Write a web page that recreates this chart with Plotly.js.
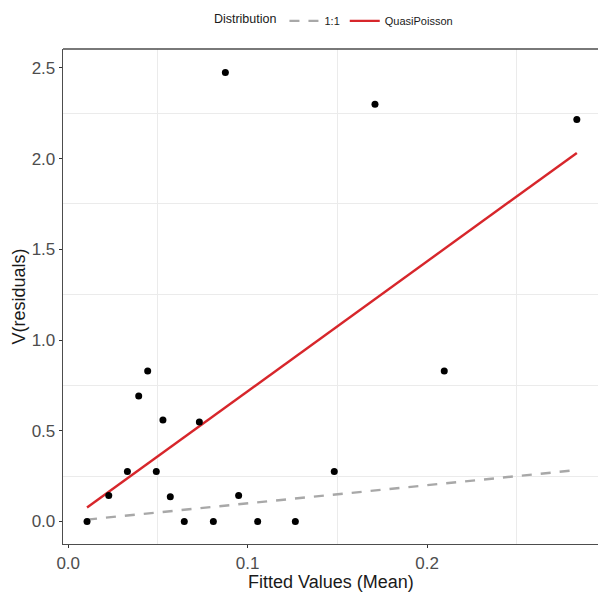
<!DOCTYPE html>
<html>
<head>
<meta charset="utf-8">
<script src="https://cdn.plot.ly/plotly-3.0.1.min.js"></script>
<style>html,body{margin:0;padding:0;background:#fff;}#chart{width:598px;height:597px;}</style>
</head>
<body>
<div id="chart"></div>
<script>
// Observed points: fitted mean vs. V(residuals)
const fittedMean = [0.0105, 0.0226, 0.0330, 0.0393, 0.0443, 0.0491, 0.0528, 0.0569, 0.0647, 0.0731, 0.0809, 0.0876, 0.0950, 0.1056, 0.1266, 0.1483, 0.1710, 0.2096, 0.2835];
const varResid   = [0.000, 0.143, 0.275, 0.692, 0.830, 0.275, 0.560, 0.137, 0.000, 0.548, 0.000, 2.474, 0.143, 0.000, 0.000, 0.275, 2.300, 0.830, 2.216];

// Reference lines
const oneToOneX = [0.0105, 0.2835];
const oneToOneY = [0.0105, 0.2835];
const quasiX = [0.0105, 0.2835];
const quasiY = [0.077, 2.031];

const seriesNames = ["1:1", "QuasiPoisson"];
const legendTitle = "Distribution";
const xTitle = "Fitted Values (Mean)";
const yTitle = "V(residuals)";

const font = "Liberation Sans, Arial, sans-serif";

const traces = [
  {x: oneToOneX, y: oneToOneY, mode: "lines", name: seriesNames[0],
   line: {color: "#a8a8a8", width: 2.4, dash: "10px,9px"}, hoverinfo: "skip"},
  {x: quasiX, y: quasiY, mode: "lines", name: seriesNames[1],
   line: {color: "#d7262b", width: 2.4}, hoverinfo: "skip"},
  {x: fittedMean, y: varResid, mode: "markers", showlegend: false,
   marker: {color: "#000", size: 7}}
];

const layout = {
  width: 598, height: 597,
  margin: {l: 63, r: 0, t: 49, b: 53},
  paper_bgcolor: "#fff", plot_bgcolor: "#fff",
  font: {family: font, color: "#4d4d4d"},
  showlegend: true,
  legend: {orientation: "h", x: 0.56, xanchor: "center", y: 0.965, yanchor: "middle",
           yref: "container", xref: "container",
           font: {size: 11, color: "#1a1a1a", family: font},
           title: {text: legendTitle, side: "left", font: {size: 12.5, color: "#1a1a1a", family: font}},
           itemwidth: 30, tracegroupgap: 0, bgcolor: "rgba(0,0,0,0)"},
  xaxis: {range: [-0.0029, 0.2953], dtick: 0.1, tick0: 0, tickformat: ".1f",
          showgrid: false,
          minor: {dtick: 0.05, tick0: 0, showgrid: true, gridcolor: "#ebebeb", gridwidth: 1, ticks: ""},
          zeroline: false, showline: true, linecolor: "#4d4d4d", linewidth: 1.3, mirror: false,
          ticks: "outside", ticklen: 3, tickcolor: "#333", tickwidth: 1,
          tickfont: {size: 17, color: "#4d4d4d", family: font}},
  yaxis: {range: [-0.124, 2.604], dtick: 0.5, tick0: 0, tickformat: ".1f",
          showgrid: false,
          minor: {dtick: 0.25, tick0: 0, showgrid: true, gridcolor: "#ebebeb", gridwidth: 1, ticks: ""},
          zeroline: false, showline: true, linecolor: "#4d4d4d", linewidth: 1.3,
          ticks: "outside", ticklen: 3, tickcolor: "#333", tickwidth: 1,
          tickfont: {size: 17, color: "#4d4d4d", family: font}},
  annotations: [
    {text: xTitle, xref: "paper", yref: "paper", x: 0.5, y: -0.0768, xanchor: "center", yanchor: "middle",
     showarrow: false, font: {size: 18, color: "#1a1a1a", family: font}},
    {text: yTitle, xref: "paper", yref: "paper", x: -0.0841, y: 0.5, xanchor: "center", yanchor: "middle",
     textangle: -90, showarrow: false, font: {size: 18, color: "#1a1a1a", family: font}}
  ],
  shapes: [
    {type: "line", xref: "paper", yref: "paper", x0: 0, x1: 1, y0: 1, y1: 1,
     line: {color: "#4d4d4d", width: 1.3}}
  ]
};

Plotly.newPlot("chart", traces, layout, {displayModeBar: false, staticPlot: true});
</script>
</body>
</html>
